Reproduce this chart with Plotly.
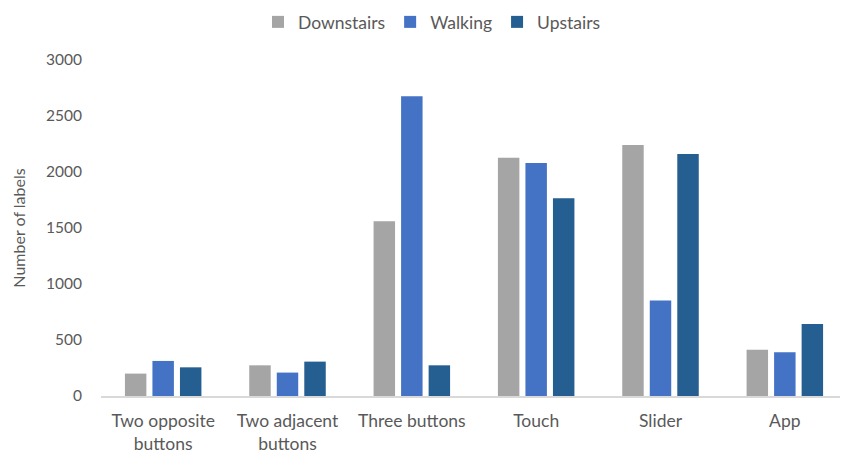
import plotly.graph_objects as go

categories = ["Two opposite<br>buttons", "Two adjacent<br>buttons", "Three buttons", "Touch", "Slider", "App"]
downstairs = [200, 274, 1560, 2128, 2240, 414]
walking = [313, 209, 2676, 2080, 852, 390]
upstairs = [256, 307, 274, 1766, 2160, 642]
series_names = ["Downstairs", "Walking", "Upstairs"]
colors = ["#A5A5A5", "#4472C4", "#255E91"]

FONT = "Lato"
# the page body adds an 8px offset; margins compensate for it
fig = go.Figure()
for name, vals, col in zip(series_names, [downstairs, walking, upstairs], colors):
    fig.add_trace(go.Bar(x=categories, y=vals, name=name, marker=dict(color=col, line=dict(width=0))))

fig.update_layout(
    width=848, height=455,
    paper_bgcolor="white", plot_bgcolor="white",
    barmode="group", bargap=0.336, bargroupgap=0.22,
    margin=dict(l=93, r=9, t=52, b=66.5, autoexpand=False),
    font=dict(family=FONT, size=15, color="#595959"),
    legend=dict(orientation="h", xref="container", yref="container", x=0.5, xanchor="center",
                y=1 - 14 / 455, yanchor="middle", font=dict(size=17.5, color="#595959"),
                itemwidth=30, bgcolor="rgba(0,0,0,0)"),
    xaxis=dict(showline=True, linecolor="#D9D9D9", linewidth=1.5, showgrid=False, ticks="",
               ticklabelstandoff=8,
               tickfont=dict(size=17.5, color="#595959"), automargin=False, fixedrange=True),
    yaxis=dict(range=[0, 3000], tickvals=[0, 500, 1000, 1500, 2000, 2500, 3000], showgrid=False,
               zeroline=False, showline=False, ticks="", ticklabelstandoff=18,
               tickfont=dict(size=15.5, color="#595959"), automargin=False,
               title=dict(text="Number of labels", font=dict(size=16, color="#595959"), standoff=16)),
)
fig.write_html("out.html")
